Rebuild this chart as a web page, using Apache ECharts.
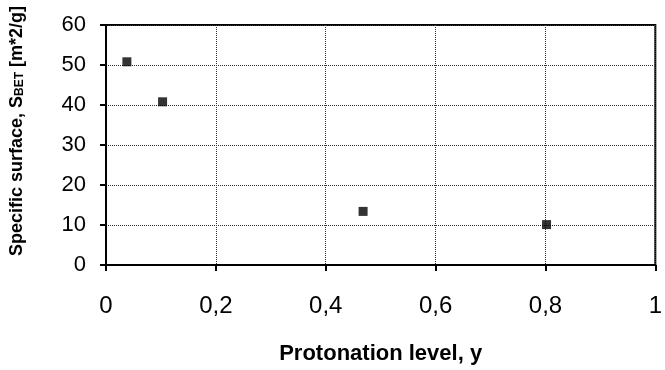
<!DOCTYPE html>
<html>
<head>
<meta charset="utf-8">
<script src="https://cdn.jsdelivr.net/npm/echarts@6/dist/echarts.min.js"></script>
<style>html,body{margin:0;padding:0;background:#fff;}#c{width:665px;height:370px;}</style>
</head>
<body>
<div id="c"></div>
<script>
const protonation = [0.038, 0.103, 0.468, 0.802];
const surface = [50.8, 40.8, 13.4, 10.1];
const xTicks = [0, 0.2, 0.4, 0.6, 0.8, 1];
const yTicks = [0, 10, 20, 30, 40, 50, 60];

const chart = echarts.init(document.getElementById('c'), null, {renderer: 'canvas'});
const font = '"Liberation Sans", Arial, sans-serif';
chart.setOption({
  animation: false,
  backgroundColor: '#fff',
  grid: {left: 105.5, right: 5, top: 25, bottom: 105, show: true, borderColor: '#000', borderWidth: 2, backgroundColor: 'transparent'},
  xAxis: {
    type: 'value', min: xTicks[0], max: xTicks[xTicks.length-1], interval: 0.2,
    name: 'Protonation level, y', nameLocation: 'middle', nameGap: 78,
    nameTextStyle: {fontFamily: font, fontWeight: 'bold', fontSize: 22, color: '#000'},
    axisLine: {lineStyle: {color: '#000', width: 2}},
    axisTick: {show: true, inside: false, length: 6, lineStyle: {color: '#000', width: 2}},
    axisLabel: {fontFamily: font, fontSize: 24, color: '#000', margin: 29,
      formatter: v => String(v).replace('.', ','), showMaxLabel: true, showMinLabel: true},
    splitLine: {show: true, lineStyle: {color: '#333', type: 'dotted', width: 1}}
  },
  yAxis: {
    type: 'value', min: yTicks[0], max: yTicks[yTicks.length-1], interval: 10,
    name: 'Specific surface, S{sub|BET} [m*2/g]', nameLocation: 'middle', nameGap: 80, nameRotate: 90,
    nameTextStyle: {fontFamily: font, fontWeight: 'bold', fontSize: 18, color: '#000', padding: [0,0,0,28],
      rich: {sub: {fontFamily: font, fontWeight: 'bold', fontSize: 12, color: '#000', verticalAlign: 'bottom'}}},
    axisLine: {lineStyle: {color: '#000', width: 2}},
    axisTick: {show: true, inside: false, length: 6, lineStyle: {color: '#000', width: 2}},
    axisLabel: {fontFamily: font, fontSize: 22, color: '#000', margin: 20},
    splitLine: {show: true, lineStyle: {color: '#333', type: 'dotted', width: 1}}
  },
  series: [{
    type: 'scatter',
    data: protonation.map((x, i) => [x, surface[i]]),
    symbol: 'rect', symbolSize: 9,
    itemStyle: {color: '#000'}
  }]
});
</script>
</body>
</html>
